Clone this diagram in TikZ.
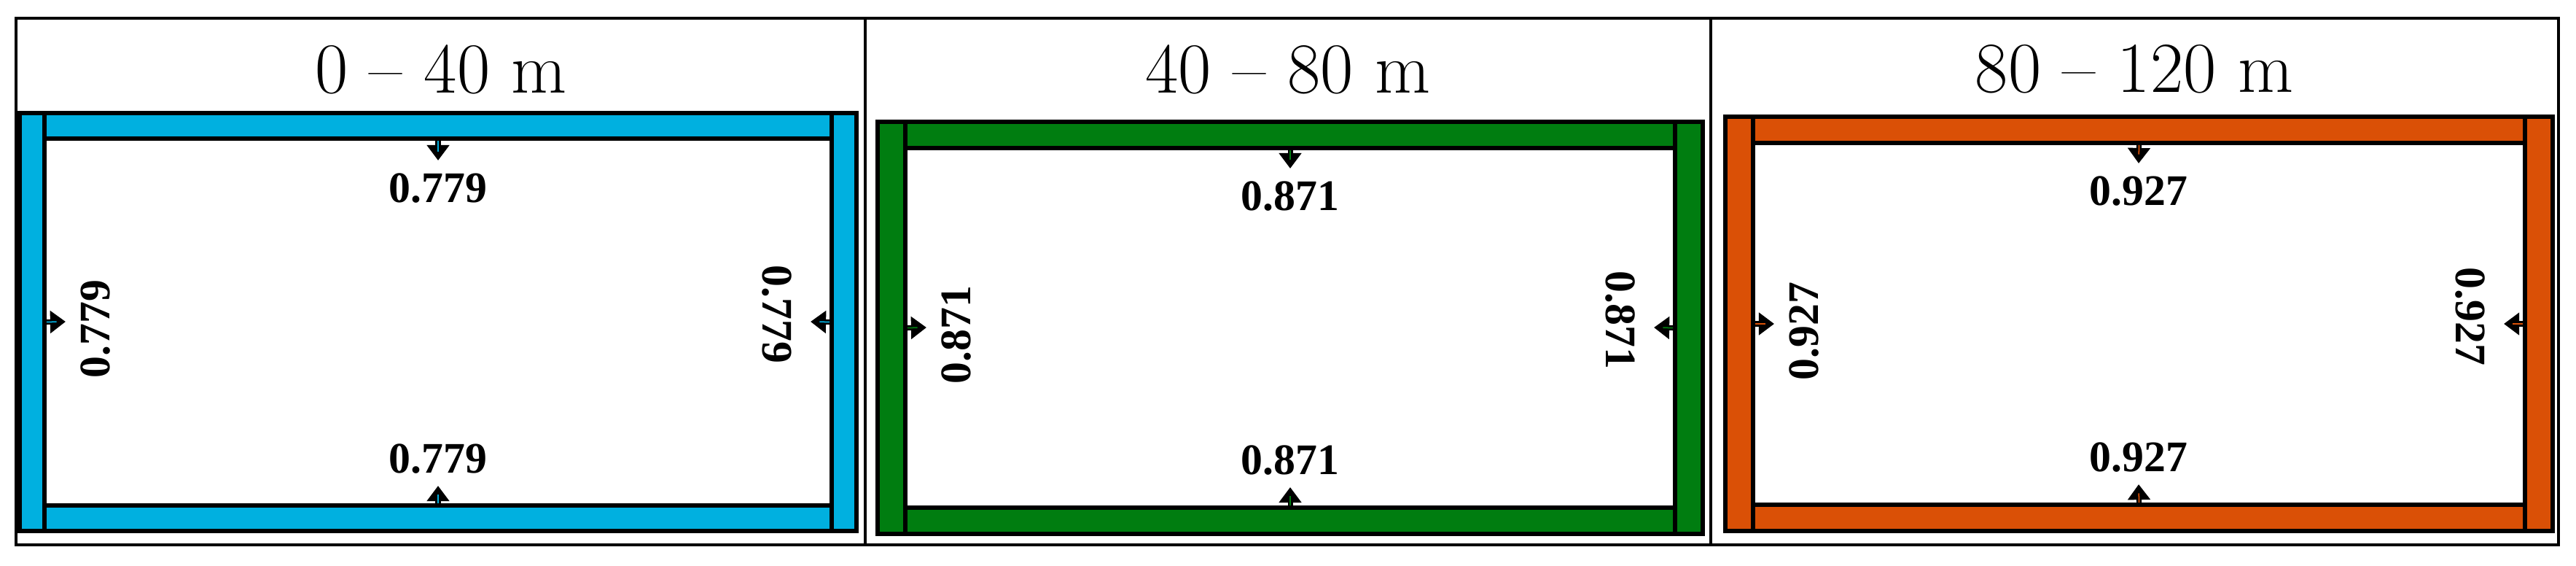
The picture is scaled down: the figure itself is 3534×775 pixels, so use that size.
\documentclass[tikz,border=0pt]{standalone}
\usepackage{fontspec}
\usepackage{xcolor}
\usetikzlibrary{arrows.meta,positioning,fit}
\newfontfamily\valuefont{Liberation Serif}
\definecolor{cyanbeam}{RGB}{0,176,224}
\definecolor{greenbeam}{RGB}{0,125,16}
\definecolor{orangebeam}{RGB}{218,80,6}
\tikzset{
    member/.style={rectangle, draw=black, line width=1.6pt, fill=#1, inner sep=0pt},
    force/.style={draw=black, line width=2pt, -{Triangle[width=8.5pt,length=6pt]},
        postaction={draw=#1, line width=0.5pt, -, shorten >=3.5pt}},
    value/.style={font=\valuefont\bfseries\fontsize{17}{20}\selectfont, inner sep=0pt},
    heading/.style={font=\fontsize{28}{30}\selectfont, inner sep=0pt}
}

\begin{document}
\begin{tikzpicture}[x=0.01cm, y=-0.01cm]
    \useasboundingbox (0,0) rectangle (3534,775);
    % table frame
    \draw[line width=1pt] (22,25) rectangle (3510,747);
    \draw[line width=1pt] (1187,25) -- (1187,747);
    \draw[line width=1pt] (2347,25) -- (2347,747);
    \node[heading] (t1) at (605,95) {0 – 40 m};
    \node[heading] (t2) at (1767,95) {40 – 80 m};
    \node[heading] (t3) at (2928,95) {80 – 120 m};

    % 0 - 40 m
    \node[member=cyanbeam, fit={(27,155) (61,728)}] (p1left) {};
    \node[member=cyanbeam, fit={(1141,155) (1175,728)}] (p1right) {};
    \node[member=cyanbeam, fit={(61,155) (1141,190)}] (p1top) {};
    \node[member=cyanbeam, fit={(61,693) (1141,728)}] (p1bot) {};
    \coordinate (p1ta) at (601,220);
    \coordinate (p1ba) at (601,666);
    \coordinate (p1la) at (90,441);
    \coordinate (p1ra) at (1112,441);
    \draw[force=cyanbeam] (p1top.south) -- (p1ta);
    \draw[force=cyanbeam] (p1bot.north) -- (p1ba);
    \draw[force=cyanbeam] (p1left.east) -- (p1la);
    \draw[force=cyanbeam] (p1right.west) -- (p1ra);
    \node[value, below=0.17cm of p1ta] (p1tv) {0.779};
    \node[value, above=0.16cm of p1ba] (p1bv) {0.779};
    \node[value, rotate=90, anchor=north] (p1lv) at ([xshift=0.2cm, yshift=-0.1cm]p1la) {0.779};
    \node[value, rotate=-90, anchor=north] (p1rv) at ([xshift=-0.25cm, yshift=0.1cm]p1ra) {0.779};

    % 40 - 80 m
    \node[member=greenbeam, fit={(1204,167) (1242,732)}] (p2left) {};
    \node[member=greenbeam, fit={(2298,167) (2336,732)}] (p2right) {};
    \node[member=greenbeam, fit={(1242,167) (2298,203)}] (p2top) {};
    \node[member=greenbeam, fit={(1242,696) (2298,732)}] (p2bot) {};
    \coordinate (p2ta) at (1770,231);
    \coordinate (p2ba) at (1770,668);
    \coordinate (p2la) at (1271,449);
    \coordinate (p2ra) at (2269,449);
    \draw[force=greenbeam] (p2top.south) -- (p2ta);
    \draw[force=greenbeam] (p2bot.north) -- (p2ba);
    \draw[force=greenbeam] (p2left.east) -- (p2la);
    \draw[force=greenbeam] (p2right.west) -- (p2ra);
    \node[value, below=0.17cm of p2ta] (p2tv) {0.871};
    \node[value, above=0.16cm of p2ba] (p2bv) {0.871};
    \node[value, rotate=90, anchor=north] (p2lv) at ([xshift=0.2cm, yshift=-0.1cm]p2la) {0.871};
    \node[value, rotate=-90, anchor=north] (p2rv) at ([xshift=-0.25cm, yshift=0.1cm]p2ra) {0.871};

    % 80 - 120 m
    \node[member=orangebeam, fit={(2367,160) (2405,728)}] (p3left) {};
    \node[member=orangebeam, fit={(3464,160) (3502,728)}] (p3right) {};
    \node[member=orangebeam, fit={(2405,160) (3464,196)}] (p3top) {};
    \node[member=orangebeam, fit={(2405,692) (3464,728)}] (p3bot) {};
    \coordinate (p3ta) at (2934,224);
    \coordinate (p3ba) at (2934,664);
    \coordinate (p3la) at (2434,444);
    \coordinate (p3ra) at (3435,444);
    \draw[force=orangebeam] (p3top.south) -- (p3ta);
    \draw[force=orangebeam] (p3bot.north) -- (p3ba);
    \draw[force=orangebeam] (p3left.east) -- (p3la);
    \draw[force=orangebeam] (p3right.west) -- (p3ra);
    \node[value, below=0.17cm of p3ta] (p3tv) {0.927};
    \node[value, above=0.16cm of p3ba] (p3bv) {0.927};
    \node[value, rotate=90, anchor=north] (p3lv) at ([xshift=0.2cm, yshift=-0.1cm]p3la) {0.927};
    \node[value, rotate=-90, anchor=north] (p3rv) at ([xshift=-0.25cm, yshift=0.1cm]p3ra) {0.927};
\end{tikzpicture}
\end{document}
